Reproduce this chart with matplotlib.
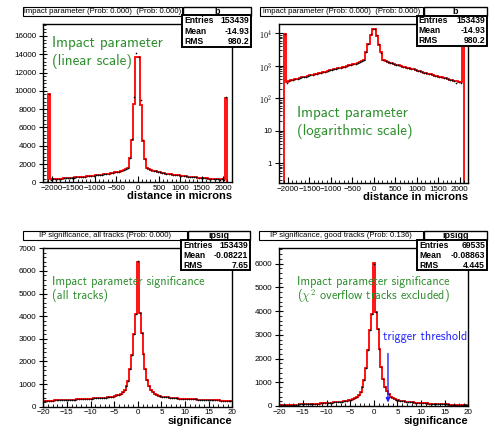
import matplotlib
matplotlib.use('Agg')
import matplotlib.pyplot as plt
import numpy as np
from matplotlib.patches import Rectangle
from matplotlib.ticker import MultipleLocator, FixedLocator, FixedFormatter

W, H = 504, 429
plt.rcParams['font.family'] = ['Liberation Sans Narrow', 'Liberation Sans', 'DejaVu Sans']
plt.rcParams['mathtext.fontset'] = 'cm'

# ---------------- data ----------------
# impact parameter, 50 micron bins from -2100 to 2100 (outer bins = overflow)
ip_edges = np.linspace(-2100, 2100, 85)
ip_left = [9700, 330, 345, 360, 375, 390, 405, 420, 440, 455, 470,
           490, 510, 530, 550, 570, 595, 620, 645, 670, 700,
           725, 755, 785, 815, 845, 880, 915, 950, 990, 1030,
           1075, 1120, 1175, 1240, 1320, 1420, 1550, 2650, 4600, 8600, 13700]
ip_right = [13700, 8500, 4500, 2600, 1550, 1420, 1330, 1260, 1200, 1140,
            1090, 1040, 995, 955, 915, 880, 845, 810, 775, 745,
            715, 685, 655, 625, 600, 575, 550, 525, 505, 485,
            465, 445, 425, 410, 395, 380, 365, 350, 335, 325, 315, 9200]
ip_counts = ip_left + ip_right
# second sample (black points): same as the red histogram except these bins
ip_points = list(ip_counts)
ip_points[0] = 9600
ip_points[1] = 290
ip_points[6] = 390
ip_points[39] = 4700
ip_points[40] = 9300
ip_points[41] = 14100
ip_points[43] = 9000
ip_points[44] = 4600
ip_points[45] = 2500
ip_points[80] = 300
ip_points[82] = 290
ip_points[83] = 9300

# IP significance, 0.4 wide bins centred on -20 ... 20
sig_edges = np.linspace(-20.2, 20.2, 102)
sig_all = [255, 258, 262, 265, 268, 272, 275, 278, 282, 286,
           290, 294, 298, 302, 306, 310, 314, 318, 322, 326,
           330, 334, 338, 343, 348, 353, 358, 363, 368, 374,
           380, 387, 394, 402, 411, 422, 435, 450, 470, 495,
           530, 580, 650, 750, 900, 1150, 1650, 2300, 3200, 4100,
           6400, 4150, 3250, 2350, 1680, 1180, 900, 740, 640, 570,
           520, 490, 465, 445, 430, 418, 407, 398, 390, 382,
           375, 368, 362, 356, 350, 345, 340, 335, 331, 327,
           323, 319, 315, 311, 307, 303, 299, 295, 291, 287,
           283, 280, 277, 274, 271, 268, 265, 262, 259, 256,
           253]
sig_all_points = list(sig_all)
sig_all_points[50] = 6450

sig_good = [40, 42, 44, 46, 48, 50, 52, 54, 56, 58,
            61, 64, 67, 70, 73, 76, 80, 84, 88, 92,
            97, 102, 107, 113, 119, 125, 131, 138, 145, 152,
            160, 168, 177, 187, 198, 210, 225, 243, 265, 295,
            335, 395, 480, 610, 800, 1100, 1600, 2350, 3200, 3900,
            6050, 3950, 3250, 2400, 1650, 1130, 820, 620, 490, 400,
            338, 298, 268, 245, 227, 212, 200, 189, 179, 170,
            162, 154, 147, 140, 133, 127, 121, 115, 109, 104,
            99, 94, 90, 86, 82, 78, 75, 72, 69, 66,
            63, 60, 58, 56, 54, 52, 50, 48, 46, 44,
            42]
sig_good_points = list(sig_good)
sig_good_points[50] = 6000

trigger_cut = 3.0

titles = ['impact parameter (Prob: 0.000)  (Prob: 0.000)',
          'impact parameter (Prob: 0.000)  (Prob: 0.000)',
          'IP significance, all tracks (Prob: 0.000)',
          'IP significance, good tracks (Prob: 0.136)']
hist_names = ['b', 'b', 'ipsig', 'ipsigg']
entries = ['153439', '153439', '153439', '69535']
means = ['-14.93', '-14.93', '-0.08221', '-0.08863']
rmss = ['980.2', '980.2', '7.65', '4.445']

GREEN = '#2f8f2f'
BLUE = '#2222ff'

fig = plt.figure(figsize=(W / 100, H / 100), dpi=100)


def px_axes(x0, y0, x1, y1):
    return fig.add_axes([x0 / W, 1 - y1 / H, (x1 - x0) / W, (y1 - y0) / H])


def px_text(x, y, s, **kw):
    fig.text(x / W, 1 - y / H, s, **kw)


def px_box(x0, y0, x1, y1, lw=0.8):
    fig.add_artist(Rectangle((x0 / W, 1 - y1 / H), (x1 - x0) / W, (y1 - y0) / H,
                             transform=fig.transFigure, facecolor='white',
                             edgecolor='black', linewidth=lw, zorder=5))


def style_axes(ax):
    ax.tick_params(which='both', direction='in', top=False, right=False,
                   labelsize=5.8, pad=2)
    ax.tick_params(axis='y', which='major', direction='inout', length=6)
    ax.tick_params(axis='x', which='major', length=4)
    ax.tick_params(which='minor', length=2)
    for sp in ax.spines.values():
        sp.set_linewidth(1.0)


def draw(ax, edges, counts, points, log=False):
    centers = 0.5 * (edges[:-1] + edges[1:])
    ax.stairs(counts, edges, color='red', linewidth=1.3,
              baseline=0.1 if log else 0)
    ax.plot(centers, points, 'o', color='black', markersize=1.2, markeredgewidth=0)


# panel 1: linear
ax1 = px_axes(43.3, 24.3, 231.7, 182.3)
draw(ax1, ip_edges, ip_counts, ip_points)
ax1.set_xlim(-2200, 2200)
ax1.set_ylim(0, 17270)
ax1.xaxis.set_major_locator(MultipleLocator(500))
ax1.xaxis.set_minor_locator(MultipleLocator(100))
ax1.yaxis.set_major_locator(MultipleLocator(2000))
ax1.yaxis.set_minor_locator(MultipleLocator(400))
style_axes(ax1)

# panel 2: log
ax2 = px_axes(279.3, 24.3, 468.3, 183)
draw(ax2, ip_edges, ip_counts, ip_points, log=True)
ax2.set_yscale('log')
ax2.set_xlim(-2200, 2200)
ax2.set_ylim(0.25, 19000)
ax2.xaxis.set_major_locator(MultipleLocator(500))
ax2.xaxis.set_minor_locator(MultipleLocator(100))
ax2.yaxis.set_major_locator(FixedLocator([1, 10, 100, 1000, 10000]))
ax2.yaxis.set_major_formatter(FixedFormatter(['1', '10', '$10^2$', '$10^3$', '$10^4$']))
style_axes(ax2)

# panel 3: all tracks
ax3 = px_axes(43.3, 248.3, 232.3, 406.7)
draw(ax3, sig_edges, sig_all, sig_all_points)
ax3.set_xlim(-20, 20)
ax3.set_ylim(0, 7000)
ax3.xaxis.set_major_locator(MultipleLocator(5))
ax3.xaxis.set_minor_locator(MultipleLocator(1))
ax3.yaxis.set_major_locator(MultipleLocator(1000))
ax3.yaxis.set_minor_locator(MultipleLocator(200))
style_axes(ax3)

# panel 4: good tracks
ax4 = px_axes(279.3, 248.3, 468.3, 406)
draw(ax4, sig_edges, sig_good, sig_good_points)
ax4.set_xlim(-20, 20)
ax4.set_ylim(0, 6650)
ax4.xaxis.set_major_locator(MultipleLocator(5))
ax4.xaxis.set_minor_locator(MultipleLocator(1))
ax4.yaxis.set_major_locator(MultipleLocator(1000))
ax4.yaxis.set_minor_locator(MultipleLocator(200))
style_axes(ax4)
ax4.annotate('', xy=(trigger_cut, 30), xytext=(trigger_cut, 2330),
             arrowprops=dict(arrowstyle='-|>', color=BLUE, lw=1.0, mutation_scale=6))
ax4.text(2.0, 2900, 'trigger threshold', color=BLUE, fontsize=8.8,
         family='cmss10', ha='left', va='center')

# x axis labels
px_text(231.7, 196, 'distance in microns', fontsize=8, fontweight='bold',
        family='Liberation Sans', ha='right', va='center')
px_text(468.3, 196.7, 'distance in microns', fontsize=8, fontweight='bold',
        family='Liberation Sans', ha='right', va='center')
px_text(232.3, 421, 'significance', fontsize=8, fontweight='bold',
        family='Liberation Sans', ha='right', va='center')
px_text(468.3, 421, 'significance', fontsize=8, fontweight='bold',
        family='Liberation Sans', ha='right', va='center')

# green annotations
big, small = 10.8, 8.8
px_text(51.7, 43.3, 'Impact parameter', color=GREEN, fontsize=big, family='cmss10', va='center')
px_text(51.7, 61.7, '(linear scale)', color=GREEN, fontsize=big, family='cmss10', va='center')
px_text(296.7, 112.7, 'Impact parameter', color=GREEN, fontsize=big, family='cmss10', va='center')
px_text(296.7, 131.7, '(logarithmic scale)', color=GREEN, fontsize=big, family='cmss10', va='center')
px_text(51.7, 281.7, 'Impact parameter significance', color=GREEN, fontsize=small, family='cmss10', va='center')
px_text(51.7, 296, '(all tracks)', color=GREEN, fontsize=small, family='cmss10', va='center')
px_text(296.7, 281.7, 'Impact parameter significance', color=GREEN, fontsize=small, family='cmss10', va='center')
px_text(296.7, 295.7, r'($\chi^2$ overflow tracks excluded)', color=GREEN, fontsize=small,
        family='cmss10', va='center')

# ROOT title and stats boxes (pixel positions)
boxes = [
    ((22.7, 7.5, 182, 15.5), (183, 7.5, 251, 15.5), (182, 15.5, 251, 47)),
    ((260, 7.5, 423, 15.5), (423.5, 7.5, 487.3, 15.5), (416.7, 15.5, 487.3, 46)),
    ((22.7, 231, 187, 240), (188, 231, 250, 240), (181, 240, 250, 270)),
    ((259, 230.5, 423, 240), (423.5, 230.5, 487, 240), (417, 240, 487, 270)),
]
for i, (tb, hb, sb) in enumerate(boxes):
    px_box(*tb, lw=0.8)
    px_text((tb[0] + tb[2]) / 2, (tb[1] + tb[3]) / 2, titles[i], fontsize=5.6,
            ha='center', va='center', zorder=6)
    px_box(*hb, lw=1.0)
    px_text((hb[0] + hb[2]) / 2, (hb[1] + hb[3]) / 2, hist_names[i], fontsize=6.5,
            fontweight='bold', ha='center', va='center', zorder=6)
    px_box(*sb, lw=1.4)
    rows = [('Entries', entries[i]), ('Mean', means[i]), ('RMS', rmss[i])]
    step = (sb[3] - sb[1]) / 3
    for j, (k, v) in enumerate(rows):
        yc = sb[1] + step * (j + 0.5)
        px_text(sb[0] + 2, yc, k, fontsize=6.2, fontweight='bold', ha='left', va='center', zorder=6)
        px_text(sb[2] - 2, yc, v, fontsize=6.2, fontweight='bold', ha='right', va='center', zorder=6)

fig.savefig('out.png', dpi=100)
